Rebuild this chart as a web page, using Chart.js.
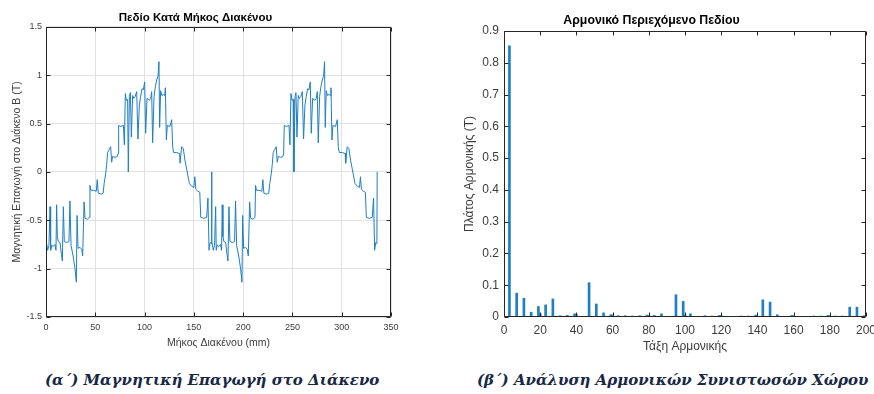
<!DOCTYPE html>
<html>
<head>
<meta charset="utf-8">
<script src="https://cdn.jsdelivr.net/npm/chart.js@4"></script>
<style>
  body { margin: 0; background: #fff; overflow: hidden; width: 874px; height: 394px; position: relative; }
  .panel { position: absolute; top: 0; }
  .caption {
    position: absolute; top: 371px; white-space: nowrap;
    font-family: "DejaVu Serif", serif; font-weight: bold; font-style: italic;
    font-size: 15px; color: #182845;
  }
</style>
</head>
<body>
<div class="panel" style="left:0;width:437px;height:360px"><canvas id="gap_chart" width="437" height="360"></canvas></div>
<div class="panel" style="left:437px;width:437px;height:360px;overflow:hidden"><canvas id="harm_chart" width="496" height="360"></canvas></div>
<div class="caption" style="left:45px">(α΄) Μαγνητική Επαγωγή στο Διάκενο</div>
<div class="caption" style="left:477px">(β΄) Ανάλυση Αρμονικών Συνιστωσών Χώρου</div>
<script>
// field along the air gap, first pole pair (mm, T)
const gap_pos_1 = [
    0, 0.3, 1.7, 3.0, 4.1, 4.7, 5.7, 7.4, 9.1, 10.1,
    10.8, 11.5, 12.5, 14.2, 15.6, 16.6, 17.6, 18.6, 21, 23.3,
    24.3, 25.4, 27.7, 29.4, 30.8, 31.5, 32.5, 34.5, 36.2, 37.2,
    38.6, 39.6, 42, 44, 44.6, 45.5, 48, 51, 52, 53,
    56, 58, 59, 60.5, 61.6, 62.5, 63.5, 65.6, 66.6, 67.6,
    70, 72.4, 73.1, 73.7, 76, 78.5, 79.5, 80.5, 81.5, 82.8,
    83.5, 84.6, 85.6, 86.6, 87.9, 89, 90.5, 92, 93.3, 94.7,
    96, 97.4, 98.8, 100.1, 101.1, 102.5, 104.8, 106.2, 107.2, 108.2,
    109.6, 110.9, 112.3, 113.6, 114.6, 115.3, 116.3, 117.5, 119, 120.5,
    121.1, 122.1, 123.1, 125.8, 127.5, 128.5, 129.5, 132.6, 135.5, 136,
    137.6, 139.3, 141, 142.7, 144, 145.5, 148, 150, 151, 152,
    154, 156, 157, 160, 163, 164.3, 165.4, 166.5, 167.7
];
const gap_b_1 = [
    0, -0.72, -0.81, -0.76, -0.36, -0.81, -0.76, -0.77, -0.75, -0.81,
    -0.34, -0.67, -0.72, -0.73, -0.85, -0.92, -0.36, -0.72, -0.73, -0.72,
    -0.30, -0.76, -0.88, -1.0, -1.14, -0.45, -0.79, -0.78, -0.80, -0.87,
    -0.31, -0.48, -0.49, -0.47, -0.14, -0.19, -0.19, -0.20, -0.08, -0.22,
    -0.23, -0.22, -0.12, -0.02, 0.08, 0.20, 0.22, 0.26, 0.10, 0.16,
    0.15, 0.16, 0.19, 0.48, 0.47, 0.48, 0.28, 0.81, 0.74, 0.75,
    0.0, 0.78, 0.82, 0.36, 0.79, 0.76, 0.78, 0.83, 0.34, 0.69,
    0.78, 0.86, 0.85, 0.93, 0.40, 0.76, 0.74, 0.76, 0.83, 0.30,
    0.78, 0.88, 0.95, 0.99, 1.14, 0.46, 0.84, 0.79, 0.80, 0.79,
    0.87, 0.33, 0.48, 0.47, 0.54, 0.26, 0.20, 0.20, 0.19, 0.09,
    0.26, 0.24, 0.12, 0.03, -0.04, -0.12, -0.15, -0.16, -0.05, -0.18,
    -0.20, -0.21, -0.47, -0.48, -0.47, -0.27, -0.81, -0.73, -0.74
];
// second pole pair
const gap_pos_2 = [
    168, 168.3, 169.7, 171.0, 172.1, 172.7, 173.7, 175.4, 177.1, 178.1,
    178.8, 179.5, 180.5, 182.2, 183.6, 184.6, 185.6, 186.6, 189, 191.3,
    192.3, 193.4, 195.7, 197.4, 198.8, 199.5, 200.5, 202.5, 204.2, 205.2,
    206.6, 207.6, 210, 212, 212.6, 213.5, 216, 219, 220, 221,
    224, 226, 227, 228.5, 229.6, 230.5, 231.5, 233.6, 234.6, 235.6,
    238, 240.4, 241.1, 241.7, 244, 246.5, 247.5, 248.5, 249.5, 250.8,
    251.5, 252.6, 253.6, 254.6, 255.9, 257, 258.5, 260, 261.3, 262.7,
    264, 265.4, 266.8, 268.1, 269.1, 270.5, 272.8, 274.2, 275.2, 276.2,
    277.6, 278.9, 280.3, 281.6, 282.6, 283.3, 284.3, 285.5, 287, 288.5,
    289.1, 290.1, 291.1, 293.8, 295.5, 296.5, 297.5, 300.6, 303.5, 304,
    305.6, 307.3, 309, 310.7, 312, 313.5, 316, 318, 319, 320,
    322, 324, 325, 328, 331, 332.3, 333.4, 334.5, 335.7, 336
];
const gap_b_2 = [
    0, -0.72, -0.81, -0.76, -0.36, -0.81, -0.76, -0.77, -0.75, -0.81,
    -0.34, -0.67, -0.72, -0.73, -0.85, -0.92, -0.36, -0.72, -0.73, -0.72,
    -0.30, -0.76, -0.88, -1.0, -1.14, -0.45, -0.79, -0.78, -0.80, -0.87,
    -0.31, -0.48, -0.49, -0.47, -0.14, -0.19, -0.19, -0.20, -0.08, -0.22,
    -0.23, -0.22, -0.12, -0.02, 0.08, 0.20, 0.22, 0.26, 0.10, 0.16,
    0.15, 0.16, 0.19, 0.48, 0.47, 0.48, 0.28, 0.81, 0.74, 0.75,
    0.0, 0.78, 0.82, 0.36, 0.79, 0.76, 0.78, 0.83, 0.34, 0.69,
    0.78, 0.86, 0.85, 0.93, 0.40, 0.76, 0.74, 0.76, 0.83, 0.30,
    0.78, 0.88, 0.95, 0.99, 1.14, 0.46, 0.84, 0.79, 0.80, 0.79,
    0.87, 0.33, 0.48, 0.47, 0.54, 0.26, 0.20, 0.20, 0.19, 0.09,
    0.26, 0.24, 0.12, 0.03, -0.04, -0.12, -0.15, -0.16, -0.05, -0.18,
    -0.20, -0.21, -0.47, -0.48, -0.47, -0.27, -0.81, -0.73, -0.74, 0
];
const gap_x_ticks = [0, 50, 100, 150, 200, 250, 300, 350];
const gap_y_ticks = [-1.5, -1, -0.5, 0, 0.5, 1, 1.5];

// harmonic spectrum
const harm_order = [
    3, 7, 11, 15, 19, 20, 23, 27, 31, 35,
    39, 40, 43, 47, 51, 55, 59, 60, 63, 67,
    71, 75, 79, 80, 83, 87, 91, 95, 99, 100,
    103, 107, 111, 115, 119, 120, 123, 131, 135, 139,
    143, 147, 151, 155, 159, 160, 163, 171, 175, 179,
    180, 183, 187, 191, 195, 199
];
const harm_amp = [
    0.853, 0.075, 0.059, 0.015, 0.033, 0.010, 0.038, 0.057, 0.004, 0.005,
    0.010, 0.008, 0.002, 0.108, 0.041, 0.013, 0.007, 0.007, 0.004, 0.004,
    0.003, 0.004, 0.006, 0.005, 0.005, 0.010, 0.002, 0.070, 0.049, 0.006,
    0.010, 0.002, 0.004, 0.003, 0.005, 0.004, 0.002, 0.003, 0.003, 0.006,
    0.054, 0.047, 0.007, 0.002, 0.005, 0.004, 0.002, 0.003, 0.003, 0.005,
    0.004, 0.003, 0.003, 0.031, 0.031, 0.004
];
const harm_x_ticks = [0, 20, 40, 60, 80, 100, 120, 140, 160, 180, 200];
const harm_y_ticks = [0, 0.1, 0.2, 0.3, 0.4, 0.5, 0.6, 0.7, 0.8, 0.9];

const FONT = 'Liberation Sans, Arial, sans-serif';
const TEXT = '#3c3c3c';

// matlab style box with inward ticks
const box_plugin = {
    id: 'matlab_box',
    afterDatasetsDraw(chart, args, opts) {
        const {ctx, chartArea: a, scales} = chart;
        const l = Math.round(a.left) + 0.5, r = Math.round(a.right) - 0.5;
        const t = Math.round(a.top) + 0.5, b = Math.round(a.bottom) - 0.5;
        const len = opts.len || 4;
        ctx.save();
        ctx.strokeStyle = '#262626';
        ctx.lineWidth = 1;
        ctx.beginPath();
        scales.x.ticks.forEach(tk => {
            const px = Math.round(scales.x.getPixelForValue(tk.value)) + 0.5;
            ctx.moveTo(px, b); ctx.lineTo(px, b - len);
            ctx.moveTo(px, t); ctx.lineTo(px, t + len);
        });
        scales.y.ticks.forEach(tk => {
            const py = Math.round(scales.y.getPixelForValue(tk.value)) + 0.5;
            ctx.moveTo(l, py); ctx.lineTo(l + len, py);
            ctx.moveTo(r, py); ctx.lineTo(r - len, py);
        });
        ctx.rect(l, t, r - l, b - t);
        ctx.stroke();
        ctx.restore();
    }
};

function to_points(xs, ys) {
    return xs.map((x, i) => ({x: x, y: ys[i]}));
}

function fixed_ticks(list) {
    return scale => { scale.ticks = list.map(v => ({value: v})); };
}

function draw_gap_chart() {
    const points = to_points(gap_pos_1, gap_b_1).concat(to_points(gap_pos_2, gap_b_2));
    new Chart(document.getElementById('gap_chart'), {
        type: 'line',
        data: {
            datasets: [{
                data: points,
                borderColor: '#1f7fc4',
                borderWidth: 1,
                pointRadius: 0,
                tension: 0
            }]
        },
        options: {
            responsive: false,
            animation: false,
            layout: {padding: {left: 0, right: 46, top: 0, bottom: 0}},
            plugins: {
                legend: {display: false},
                tooltip: {enabled: false},
                title: {
                    display: true,
                    text: 'Πεδίο Κατά Μήκος Διακένου',
                    color: '#000',
                    font: {family: FONT, size: 11.5, weight: 'bold'},
                    padding: {top: 11, bottom: 2}
                },
                matlab_box: {len: 4}
            },
            scales: {
                x: {
                    type: 'linear', min: 0, max: 350,
                    afterBuildTicks: fixed_ticks(gap_x_ticks),
                    afterFit: s => { s.height = 43; },
                    border: {display: false},
                    grid: {color: '#e2e2e2', drawTicks: false},
                    ticks: {color: TEXT, font: {family: FONT, size: 9}, padding: 5, maxRotation: 0, autoSkip: false,
                        callback: v => String(v)},
                    title: {display: true, text: 'Μήκος Διακένου (mm)', color: TEXT,
                        font: {family: FONT, size: 10.5}, padding: {top: 0, bottom: 11}}
                },
                y: {
                    min: -1.5, max: 1.5,
                    afterBuildTicks: fixed_ticks(gap_y_ticks),
                    afterFit: s => { s.width = 46; },
                    border: {display: false},
                    grid: {color: '#e2e2e2', drawTicks: false},
                    ticks: {color: TEXT, font: {family: FONT, size: 9}, padding: 4, autoSkip: false,
                        callback: v => String(v)},
                    title: {display: true, text: 'Μαγνητική Επαγωγή στο Διάκενο B (T)', color: TEXT,
                        font: {family: FONT, size: 10.5}, padding: {top: 11, bottom: 0}}
                }
            }
        },
        plugins: [box_plugin]
    });
}

function draw_harm_chart() {
    new Chart(document.getElementById('harm_chart'), {
        type: 'bar',
        data: {
            datasets: [{
                data: to_points(harm_order, harm_amp),
                backgroundColor: '#1f7fc4',
                barThickness: 2
            }]
        },
        options: {
            responsive: false,
            animation: false,
            layout: {padding: {left: 0, right: 67, top: 0, bottom: 0}},
            plugins: {
                legend: {display: false},
                tooltip: {enabled: false},
                title: {
                    display: true,
                    text: 'Αρμονικό Περιεχόμενο Πεδίου',
                    color: '#000',
                    font: {family: FONT, size: 12.3, weight: 'bold'},
                    padding: {top: 13.6, bottom: 2.6}
                },
                matlab_box: {len: 4}
            },
            scales: {
                x: {
                    type: 'linear', min: 0, max: 200, offset: false,
                    afterBuildTicks: fixed_ticks(harm_x_ticks),
                    afterFit: s => { s.height = 43; },
                    border: {display: false},
                    grid: {display: false, offset: false, drawTicks: false},
                    ticks: {color: TEXT, font: {family: FONT, size: 12}, padding: 6.5, maxRotation: 0, autoSkip: false,
                        callback: v => String(v)},
                    title: {display: true, text: 'Τάξη Αρμονικής', color: TEXT,
                        font: {family: FONT, size: 12}, padding: {top: 0, bottom: 6}}
                },
                y: {
                    min: 0, max: 0.9,
                    afterBuildTicks: fixed_ticks(harm_y_ticks),
                    afterFit: s => { s.width = 67; },
                    border: {display: false},
                    grid: {display: false, drawTicks: false},
                    ticks: {color: TEXT, font: {family: FONT, size: 12}, padding: 5, autoSkip: false,
                        callback: v => String(v)},
                    title: {display: true, text: 'Πλάτος Αρμονικής (T)', color: TEXT,
                        font: {family: FONT, size: 12}, padding: {top: 25.8, bottom: 0}}
                }
            }
        },
        plugins: [box_plugin]
    });
}

draw_gap_chart();
draw_harm_chart();
</script>
</body>
</html>
